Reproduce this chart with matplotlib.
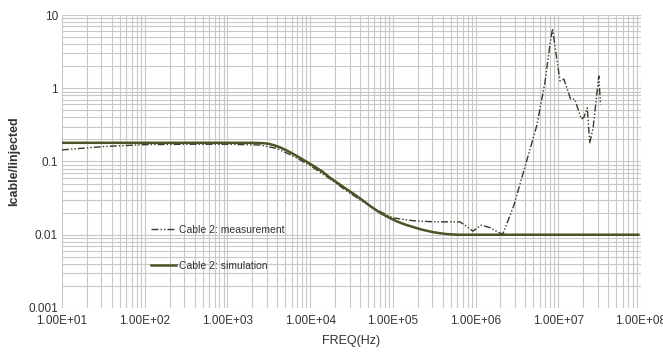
import matplotlib.pyplot as plt
from matplotlib.ticker import FixedLocator, LogLocator, NullFormatter

plt.rcParams['font.family'] = ['Liberation Sans', 'DejaVu Sans']
narrow = ['Liberation Sans Narrow', 'Liberation Sans', 'DejaVu Sans']

# measured current ratio, cable 2
meas_f = [10, 32, 100, 316, 1000, 2500, 4000, 6300, 1.0e4, 1.6e4, 2.5e4,
          4.0e4, 6.3e4, 1.0e5, 1.8e5, 3.2e5, 6.5e5, 9.3e5, 1.17e6, 1.5e6,
          2.0e6, 2.15e6, 2.9e6, 4.2e6, 5.5e6, 6.9e6, 7.9e6, 8.5e6, 1.05e7,
          1.17e7, 1.41e7, 1.58e7, 1.9e7, 2.04e7, 2.24e7, 2.4e7, 2.63e7,
          3.09e7, 3.24e7]
meas_v = [0.144, 0.16, 0.170, 0.172, 0.172, 0.168, 0.150, 0.118, 0.088,
          0.062, 0.043, 0.030, 0.022, 0.017, 0.0155, 0.015, 0.015, 0.0112,
          0.0135, 0.0125, 0.0104, 0.0104, 0.025, 0.107, 0.31, 1.2, 3.8, 6.5,
          1.26, 1.33, 0.71, 0.71, 0.38, 0.40, 0.54, 0.18, 0.28, 1.47, 0.6]

# simulated current ratio, cable 2
sim_f = [10, 1000, 2000, 2700, 3200, 3700, 4400, 5500, 6900, 8700, 1.1e4,
         1.4e4, 1.74e4, 2.2e4, 2.75e4, 3.5e4, 4.4e4, 5.5e4, 7.0e4, 8.9e4,
         1.12e5, 1.4e5, 1.78e5, 2.2e5, 3.0e5, 3.7e5, 4.5e5, 6.0e5, 1.0e6, 9.3e7]
sim_v = [0.18, 0.18, 0.18, 0.178, 0.174, 0.166, 0.155, 0.137, 0.119, 0.102,
         0.087, 0.073, 0.060, 0.050, 0.042, 0.035, 0.029, 0.024, 0.020,
         0.0172, 0.0152, 0.0138, 0.0127, 0.0118, 0.0109, 0.0105, 0.0102,
         0.0100, 0.0100, 0.0100]

x_ticks = [1e1, 1e2, 1e3, 1e4, 1e5, 1e6, 1e7, 1e8]
x_labels = ['1.00E+01', '1.00E+02', '1.00E+03', '1.00E+04', '1.00E+05',
            '1.00E+06', '1.00E+07', '1.00E+08']
y_ticks = [0.001, 0.01, 0.1, 1, 10]
y_labels = ['0.001', '0.01', '0.1', '1', '10']

fig = plt.figure(figsize=(6.63, 3.53), dpi=100)
ax = fig.add_axes([0.0935, 0.1275, 0.8733, 0.83])

ax.plot(meas_f, meas_v, color='#333d24', lw=1.0,
        linestyle=(0, (5, 1.5, 1, 1.5, 1, 1.5)), label='Cable 2: measurement')
ax.plot(sim_f, sim_v, color='#4a5526', lw=1.8, label='Cable 2: simulation')

ax.set_xscale('log')
ax.set_yscale('log')
ax.set_xlim(10, 1e8)
ax.set_ylim(0.001, 10)
ax.xaxis.set_major_locator(FixedLocator(x_ticks))
ax.set_xticklabels(x_labels, family=narrow, fontsize=8.5)
ax.yaxis.set_major_locator(FixedLocator(y_ticks))
ax.set_yticklabels(y_labels, family=narrow, fontsize=8.5)
ax.xaxis.set_minor_locator(LogLocator(base=10, subs=range(2, 10), numticks=20))
ax.yaxis.set_minor_locator(LogLocator(base=10, subs=range(2, 10), numticks=20))
ax.xaxis.set_minor_formatter(NullFormatter())
ax.yaxis.set_minor_formatter(NullFormatter())

ax.grid(True, which='both', color='#c8c8c8', lw=0.8)
ax.set_axisbelow(True)
for s in ax.spines.values():
    s.set_visible(False)
ax.tick_params(which='both', length=0, colors='#333333')
ax.tick_params(axis='x', pad=5)
ax.tick_params(axis='y', pad=3)

ax.set_xlabel('FREQ(Hz)', fontsize=9, family=narrow, color='#333333', labelpad=6)
ax.set_ylabel('Icable/Iinjected', fontsize=9, fontweight='bold', color='#333333', labelpad=6)

ax.legend(loc='upper left', bbox_to_anchor=(0.138, 0.315), frameon=False,
          fontsize=7.5, labelspacing=2.5, handlelength=2.4, handletextpad=0.3,
          labelcolor='#333333')

fig.savefig('out.png', dpi=100)
